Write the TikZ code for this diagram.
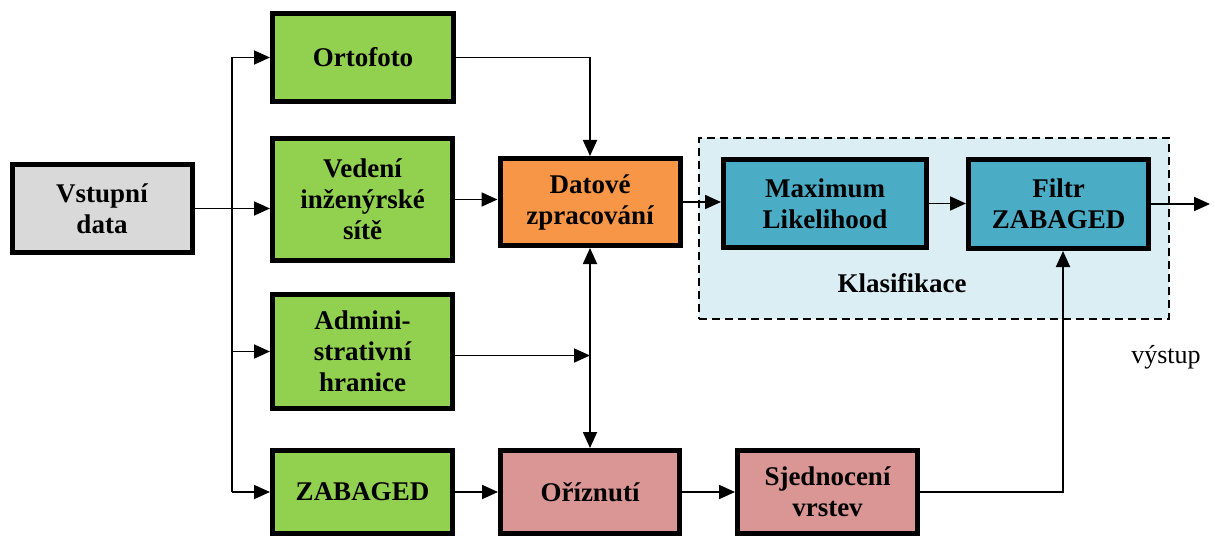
\documentclass[tikz,border=0pt]{standalone}
\usepackage{fontspec}
\setmainfont{Liberation Serif}
\usetikzlibrary{arrows.meta}

\definecolor{cgray}{HTML}{D9D9D9}
\definecolor{cgreen}{HTML}{92D050}
\definecolor{corange}{HTML}{F79646}
\definecolor{cteal}{HTML}{4BACC6}
\definecolor{cpink}{HTML}{D99694}
\definecolor{cpale}{HTML}{DBEEF4}

\tikzset{
  box/.style={draw=black, line width=5pt, rectangle, align=center,
    minimum width=180pt, minimum height=88pt, inner sep=2pt,
    font=\fontsize{27}{31}\selectfont\bfseries},
  tip/.tip={Triangle[length=16pt,width=14pt]},
  arr/.style={line width=1.8pt, -tip},
  dblarr/.style={line width=1.8pt, tip-tip},
  ln/.style={line width=1.8pt},
  group/.style={draw=black, fill=cpale, line width=2pt, dash pattern=on 8pt off 5pt,
    rectangle, minimum width=470pt, minimum height=181pt, inner sep=0pt},
}

\begin{document}
\begin{tikzpicture}[x=1pt,y=-1pt]
  \useasboundingbox (0,0) rectangle (1214,540);

  % classification group behind its two blocks
  \node[group] (klas) at (934,228.5) {};
  \node[font=\fontsize{27}{31}\selectfont\bfseries] (klaslbl) at (902,283) {Klasifikace};

  % blocks
  \node[box, fill=cgray, minimum height=88pt] (vst) at (102,208.5) {Vstupní\\data};
  \node[box, fill=cgreen, minimum width=181pt, minimum height=88pt] (ort) at (363,57.5) {Ortofoto};
  \node[box, fill=cgreen, minimum height=122pt] (ved) at (362.5,199.5) {Vedení\\inženýrské\\sítě};
  \node[box, fill=cgreen, minimum height=114pt] (adm) at (362.5,351.5) {Admini-\\strativní\\hranice};
  \node[box, fill=cgreen, minimum height=83pt] (zab) at (362.5,492) {ZABAGED};
  \node[box, fill=corange, minimum height=87pt] (dat) at (590,202) {Datové\\zpracování};
  \node[box, fill=cpink, minimum width=179pt, minimum height=83pt] (ori) at (590,492) {Oříznutí};
  \node[box, fill=cpink, minimum height=83pt] (sje) at (827.5,492) {Sjednocení\\vrstev};
  \node[box, fill=cteal, minimum width=203pt, minimum height=88pt] (max) at (825,203.5) {Maximum\\Likelihood};
  \node[box, fill=cteal, minimum height=89pt] (fil) at (1058.5,204) {Filtr\\ZABAGED};

  \node[font=\fontsize{26}{30}\selectfont] (vys) at (1166,357) {výstup};

  % distribution of the input data
  \coordinate (split) at (232,208.5);
  \coordinate (out) at (1210,204);
  \draw[arr] (vst.east) -- (vst.east -| ved.west);
  \draw[ln] (split |- ort.west) -- (split |- zab.west);
  \draw[arr] (split |- ort.west) -- (ort.west);
  \draw[arr] (split |- adm.west) -- (adm.west);
  \draw[arr] (split |- zab.west) -- (zab.west);

  % processing
  \draw[arr] (ort.east) -| (dat.north);
  \draw[arr] (ved.east) -- (ved.east -| dat.west);
  \draw[dblarr] (dat.south) -- (ori.north);
  \draw[arr] ([yshift=-4pt]adm.east) -- ([yshift=-4pt]adm.east -| dat.south);
  \draw[arr] (zab.east) -- (ori.west);
  \draw[arr] (ori.east) -- (sje.west);
  \draw[arr] (sje.east) -| ([xshift=4.5pt]fil.south);

  % classification
  \draw[arr] (dat.east) -- (dat.east -| max.west);
  \draw[arr] (max.east) -- (max.east -| fil.west);
  \draw[arr] (fil.east) -- (out);
\end{tikzpicture}
\end{document}
